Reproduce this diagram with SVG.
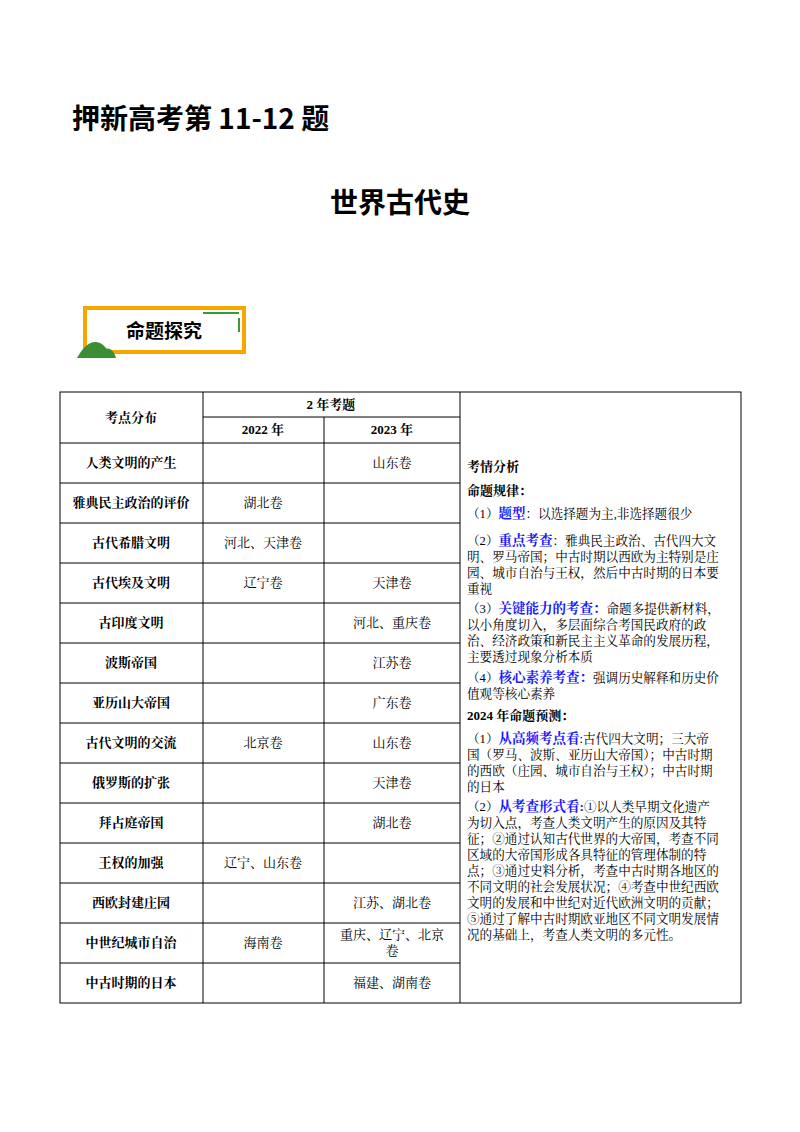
<svg xmlns="http://www.w3.org/2000/svg" width="800" height="1132" viewBox="0 0 800 1132">
<style>
text{font-family:"Liberation Serif","Noto Serif CJK SC","Noto Sans CJK SC",serif;fill:#000}
.h{font-family:"Noto Sans CJK SC",sans-serif;font-weight:bold}
.c{font-size:13px;text-anchor:middle}
.b{font-weight:bold}
.r{font-size:12.6px}
.bl{fill:#1a1aff;font-weight:bold;font-size:13.5px}
.g{stroke:#000;stroke-width:1;fill:none}
</style>
<rect width="800" height="1132" fill="#fff"/>
<text class="h" x="72" y="129" font-size="28">押新高考第 11-12 题</text>
<text class="h" x="400" y="213" font-size="28" text-anchor="middle">世界古代史</text>
<g id="banner">
<rect x="85" y="308" width="159" height="44" fill="#fff" stroke="#f7a600" stroke-width="4"/>
<path d="M203 313 H239 M239 318 V332" stroke="#3a9a3a" stroke-width="2"/>
<path d="M77 358 Q88 338 100 343 Q107 346 111 358 Z" fill="#3a8f35"/>
<path d="M98 358 Q104 346 110 349 Q114 351 116 358 Z" fill="#3a8f35"/>
<text class="h" x="164" y="338" font-size="19" text-anchor="middle">命题探究</text>
</g>
<g id="table" class="g">
<rect x="60" y="392" width="681" height="611"/>
<path d="M203 392V1003M324 417V1003M460 392V1003M203 417H460M60 443H460M60 483H460M60 523H460M60 563H460M60 603H460M60 643H460M60 683H460M60 723H460M60 763H460M60 803H460M60 843H460M60 883H460M60 923H460M60 963H460"/>
</g>
<g id="cells">
<text class="c b" x="131" y="422">考点分布</text>
<text class="c b" x="331" y="409">2 年考题</text>
<text class="c b" x="263" y="434">2022 年</text>
<text class="c b" x="392" y="434">2023 年</text>
<g class="c b">
<text x="131" y="467">人类文明的产生</text>
<text x="131" y="507">雅典民主政治的评价</text>
<text x="131" y="547">古代希腊文明</text>
<text x="131" y="587">古代埃及文明</text>
<text x="131" y="627">古印度文明</text>
<text x="131" y="667">波斯帝国</text>
<text x="131" y="707">亚历山大帝国</text>
<text x="131" y="747">古代文明的交流</text>
<text x="131" y="787">俄罗斯的扩张</text>
<text x="131" y="827">拜占庭帝国</text>
<text x="131" y="867">王权的加强</text>
<text x="131" y="907">西欧封建庄园</text>
<text x="131" y="947">中世纪城市自治</text>
<text x="131" y="987">中古时期的日本</text>
</g>
<g class="c">
<text x="392" y="467">山东卷</text>
<text x="263" y="507">湖北卷</text>
<text x="263" y="547">河北、天津卷</text>
<text x="263" y="587">辽宁卷</text>
<text x="392" y="587">天津卷</text>
<text x="392" y="627">河北、重庆卷</text>
<text x="392" y="667">江苏卷</text>
<text x="392" y="707">广东卷</text>
<text x="263" y="747">北京卷</text>
<text x="392" y="747">山东卷</text>
<text x="392" y="787">天津卷</text>
<text x="392" y="827">湖北卷</text>
<text x="263" y="867">辽宁、山东卷</text>
<text x="392" y="907">江苏、湖北卷</text>
<text x="263" y="947">海南卷</text>
<text x="392" y="939">重庆、辽宁、北京</text>
<text x="392" y="955">卷</text>
<text x="392" y="987">福建、湖南卷</text>
</g>
</g>
<g id="analysis" class="r">
<text x="467" y="471" class="b" font-size="13">考情分析</text>
<text x="467" y="495" class="b" font-size="13">命题规律：</text>
<text x="467" y="518">（1）<tspan class="bl">题型</tspan>：以选择题为主,非选择题很少</text>
<text x="467" y="545">（2）<tspan class="bl">重点考查</tspan>：雅典民主政治、古代四大文</text>
<text x="467" y="561">明、罗马帝国；中古时期以西欧为主特别是庄</text>
<text x="467" y="577">园、城市自治与王权，然后中古时期的日本要</text>
<text x="467" y="593">重视</text>
<text x="467" y="613">（3）<tspan class="bl">关键能力的考查：</tspan>命题多提供新材料，</text>
<text x="467" y="629">以小角度切入，多层面综合考国民政府的政</text>
<text x="467" y="645">治、经济政策和新民主主义革命的发展历程，</text>
<text x="467" y="661">主要透过现象分析本质</text>
<text x="467" y="682">（4）<tspan class="bl">核心素养考查：</tspan>强调历史解释和历史价</text>
<text x="467" y="698">值观等核心素养</text>
<text x="467" y="720" class="b" font-size="13">2024 年命题预测：</text>
<text x="467" y="743">（1）<tspan class="bl">从高频考点看</tspan>:古代四大文明；三大帝</text>
<text x="467" y="759">国（罗马、波斯、亚历山大帝国）；中古时期</text>
<text x="467" y="775">的西欧（庄园、城市自治与王权）；中古时期</text>
<text x="467" y="791">的日本</text>
<text x="467" y="811">（2）<tspan class="bl">从考查形式看:</tspan>①以人类早期文化遗产</text>
<text x="467" y="827">为切入点，考查人类文明产生的原因及其特</text>
<text x="467" y="843">征；②通过认知古代世界的大帝国，考查不同</text>
<text x="467" y="859">区域的大帝国形成各具特征的管理体制的特</text>
<text x="467" y="875">点；③通过史料分析，考查中古时期各地区的</text>
<text x="467" y="891">不同文明的社会发展状况；④考查中世纪西欧</text>
<text x="467" y="907">文明的发展和中世纪对近代欧洲文明的贡献；</text>
<text x="467" y="923">⑤通过了解中古时期欧亚地区不同文明发展情</text>
<text x="467" y="939">况的基础上，考查人类文明的多元性。</text>
</g>
</svg>
